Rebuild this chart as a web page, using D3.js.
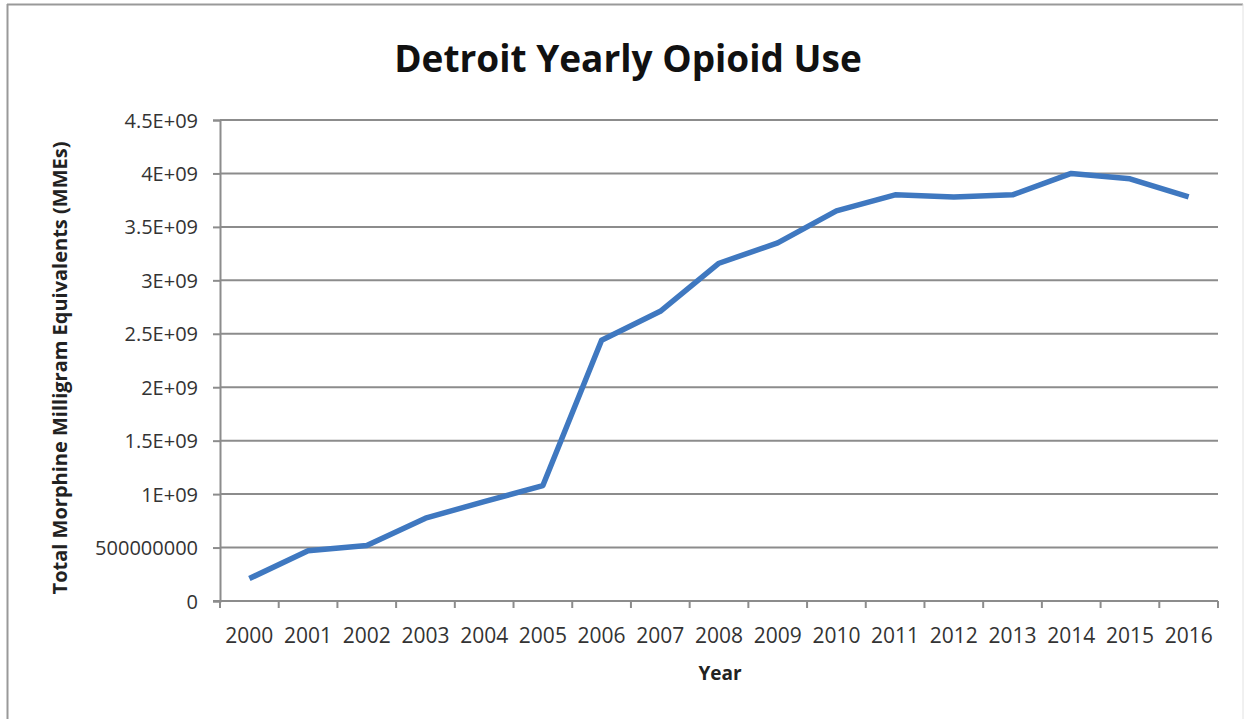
<!DOCTYPE html>
<html>
<head>
<meta charset="utf-8">
<script src="https://cdn.jsdelivr.net/npm/d3@7"></script>
<style>
  body { margin: 0; background: #fff; }
  svg { display: block; }
  .tick text { font-family: "Open Sans", sans-serif; fill: #333; }
</style>
</head>
<body>
<div id="chart"></div>
<script>
var years = ["2000", "2001", "2002", "2003", "2004", "2005", "2006", "2007", "2008",
  "2009", "2010", "2011", "2012", "2013", "2014", "2015", "2016"];
var mmeValues = [2.1e8, 4.7e8, 5.2e8, 7.75e8, 9.3e8, 1.08e9, 2.44e9, 2.71e9, 3.16e9,
  3.35e9, 3.65e9, 3.8e9, 3.78e9, 3.8e9, 4.0e9, 3.95e9, 3.78e9];
var yTicks = [0, 5e8, 1e9, 1.5e9, 2e9, 2.5e9, 3e9, 3.5e9, 4e9, 4.5e9];
var yTickLabels = ["0", "500000000", "1E+09", "1.5E+09", "2E+09", "2.5E+09",
  "3E+09", "3.5E+09", "4E+09", "4.5E+09"];

var svgWidth = 1248;
var svgHeight = 719;

var margin = {
  top: 120,
  right: 30,
  bottom: 118,
  left: 220
};

var width = svgWidth - margin.left - margin.right;
var height = svgHeight - margin.top - margin.bottom;

var svg = d3.select("#chart")
  .append("svg")
  .attr("width", svgWidth)
  .attr("height", svgHeight);

// outer frame (left and top visible, right faint)
svg.append("line")
  .attr("x1", 7.5).attr("y1", 4).attr("x2", 7.5).attr("y2", svgHeight)
  .attr("stroke", "#999").attr("stroke-width", 2);
svg.append("line")
  .attr("x1", 7).attr("y1", 4.5).attr("x2", 1243).attr("y2", 4.5)
  .attr("stroke", "#999").attr("stroke-width", 2);
svg.append("line")
  .attr("x1", 1243).attr("y1", 4).attr("x2", 1243).attr("y2", svgHeight)
  .attr("stroke", "#e2e2e2").attr("stroke-width", 1);

var chartGroup = svg.append("g")
  .attr("transform", `translate(${margin.left}, ${margin.top})`);

// scales
var xBandScale = d3.scaleBand()
  .domain(years)
  .range([0, width]);

var yLinearScale = d3.scaleLinear()
  .domain([0, 4.5e9])
  .range([height, 0]);

// gridlines
chartGroup.append("g")
  .selectAll("line")
  .data(yTicks.slice(1))
  .enter()
  .append("line")
  .attr("x1", 0)
  .attr("x2", width)
  .attr("y1", d => yLinearScale(d))
  .attr("y2", d => yLinearScale(d))
  .attr("stroke", "#8c8c8c")
  .attr("stroke-width", 2);

// y axis
var leftAxis = d3.axisLeft(yLinearScale)
  .tickValues(yTicks)
  .tickSize(7)
  .tickPadding(15)
  .tickFormat((d, i) => yTickLabels[i]);

var yAxis = chartGroup.append("g")
  .call(leftAxis);
yAxis.select(".domain").attr("stroke", "#8c8c8c").attr("stroke-width", 2);
yAxis.selectAll(".tick line").attr("stroke", "#8c8c8c").attr("stroke-width", 2);
yAxis.selectAll(".tick text").attr("font-size", "20px").attr("dy", "0.35em");

// x axis: ticks between categories
var xAxis = chartGroup.append("g")
  .attr("transform", `translate(0, ${height})`);
xAxis.append("line")
  .attr("x1", -7).attr("x2", width)
  .attr("stroke", "#8c8c8c").attr("stroke-width", 2);
xAxis.selectAll("line.tk")
  .data(years.concat(["end"]))
  .enter()
  .append("line")
  .attr("class", "tk")
  .attr("x1", (d, i) => i * xBandScale.step())
  .attr("x2", (d, i) => i * xBandScale.step())
  .attr("y1", 0)
  .attr("y2", 7)
  .attr("stroke", "#8c8c8c")
  .attr("stroke-width", 2);
xAxis.selectAll("text")
  .data(years)
  .enter()
  .append("text")
  .attr("x", d => xBandScale(d) + xBandScale.bandwidth() / 2)
  .attr("y", 42)
  .attr("text-anchor", "middle")
  .attr("font-family", "'Open Sans', sans-serif")
  .attr("font-size", "21px")
  .attr("fill", "#333")
  .text(d => d);

// line
var line = d3.line()
  .x((d, i) => xBandScale(years[i]) + xBandScale.bandwidth() / 2)
  .y(d => yLinearScale(d));

chartGroup.append("path")
  .datum(mmeValues)
  .attr("d", line)
  .attr("fill", "none")
  .attr("stroke", "#3f78c0")
  .attr("stroke-width", 5.5)
  .attr("stroke-linejoin", "round");

// title
svg.append("text")
  .attr("x", 628)
  .attr("y", 72)
  .attr("text-anchor", "middle")
  .attr("font-family", "'Open Sans', sans-serif")
  .attr("font-weight", "bold")
  .attr("font-size", "37px")
  .attr("fill", "#111")
  .text("Detroit Yearly Opioid Use");

// axis titles
svg.append("text")
  .attr("x", 720)
  .attr("y", 680)
  .attr("text-anchor", "middle")
  .attr("font-family", "'Open Sans', sans-serif")
  .attr("font-weight", "bold")
  .attr("font-size", "19px")
  .attr("fill", "#222")
  .text("Year");

svg.append("text")
  .attr("transform", "translate(67, 368) rotate(-90)")
  .attr("text-anchor", "middle")
  .attr("font-family", "'Open Sans', sans-serif")
  .attr("font-weight", "bold")
  .attr("font-size", "20px")
  .attr("fill", "#222")
  .text("Total Morphine Milligram Equivalents (MMEs)");
</script>
</body>
</html>
